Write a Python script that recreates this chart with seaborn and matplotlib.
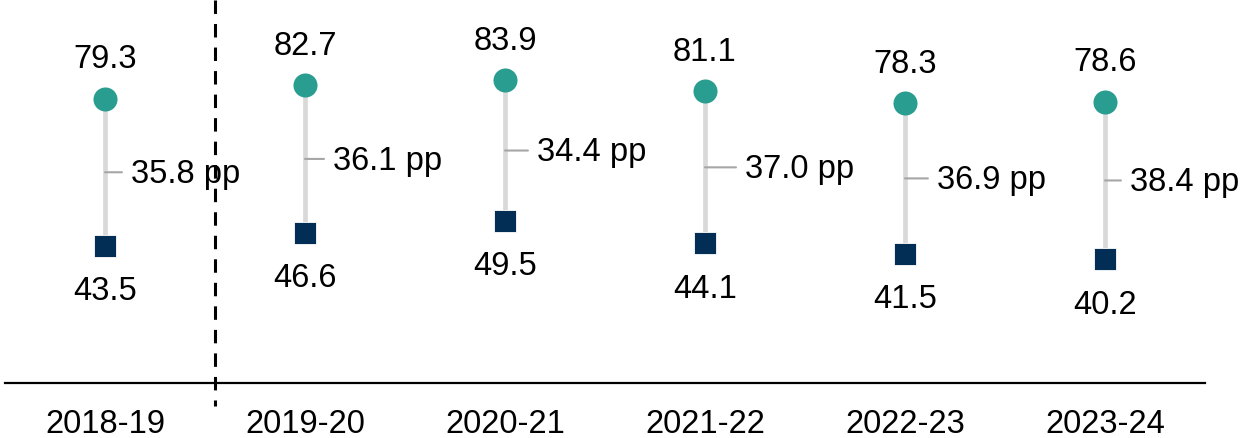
import matplotlib
matplotlib.use("Agg")
import matplotlib.pyplot as plt
import seaborn as sns
import pandas as pd

# School years and the two rates per year
years = ["2018-19", "2019-20", "2020-21", "2021-22", "2022-23", "2023-24"]
upper_rate = [79.3, 82.7, 83.9, 81.1, 78.3, 78.6]
lower_rate = [43.5, 46.6, 49.5, 44.1, 41.5, 40.2]
gap_pp = [35.8, 36.1, 34.4, 37.0, 36.9, 38.4]

# horizontal offset (in points) of each gap label from its connector
gap_label_offset = [18.7, 20.2, 23.0, 28.8, 23.0, 18.0]

TEAL = "#2a9d91"
NAVY = "#022d54"
CONNECTOR = "#d9d9d9"
LEADER = "#a6a6a6"

sns.set_theme(style="white")
plt.rcParams["font.family"] = ["Liberation Sans", "DejaVu Sans"]

pos = list(range(len(years)))
df = pd.DataFrame({"pos": pos, "year": years, "upper": upper_rate,
                   "lower": lower_rate, "gap": gap_pp})

fig = plt.figure(figsize=(12.47, 4.38), dpi=100)
ax = fig.add_axes([5 / 1247, 55 / 438, 1200 / 1247, 383 / 438])

# connectors between the two rates
ax.vlines(df["pos"], df["lower"], df["upper"], color=CONNECTOR, lw=3.4, zorder=1)

sns.scatterplot(data=df, x="pos", y="upper", ax=ax, color=TEAL, marker="o",
                s=300, linewidth=0, zorder=3)
sns.scatterplot(data=df, x="pos", y="lower", ax=ax, color=NAVY, marker="s",
                s=250, linewidth=0.6, edgecolor="white", zorder=3)

fs = 23.5
for (_, r), dx in zip(df.iterrows(), gap_label_offset):
    ax.annotate(f"{r['upper']:.1f}", xy=(r["pos"], r["upper"]), xytext=(0, 28),
                textcoords="offset points", ha="center", va="center", fontsize=fs,
                color="black")
    ax.annotate(f"{r['lower']:.1f}", xy=(r["pos"], r["lower"]), xytext=(0, -33),
                textcoords="offset points", ha="center", va="center", fontsize=fs,
                color="black")
    mid = (r["upper"] + r["lower"]) / 2
    # short leader from the connector toward the gap label
    ax.annotate("", xy=(r["pos"], mid), xytext=(dx - 6.5, 0),
                textcoords="offset points",
                arrowprops=dict(arrowstyle="-", color=LEADER, lw=1.5,
                                shrinkA=0, shrinkB=0),
                zorder=2)
    ax.annotate(f"{r['gap']:.1f} pp", xy=(r["pos"], mid), xytext=(dx, -1.5),
                textcoords="offset points", ha="left", va="center", fontsize=fs,
                color="black")

ax.set_xlim(-0.5, len(years) - 0.5)
ax.set_ylim(10, 10 + 383 / 4.1)
ax.set_xticks(pos)
ax.set_xticklabels(years, fontsize=fs, color="black")
ax.tick_params(axis="x", length=0, pad=19, colors="black")
ax.set_yticks([])
ax.set_xlabel("")
ax.set_ylabel("")

for side in ["top", "right", "left"]:
    ax.spines[side].set_visible(False)
ax.spines["bottom"].set_color("black")
ax.spines["bottom"].set_linewidth(1.6)

# separator after the first year, drawn from the top down
ax.plot([0.55, 0.55], [1.0, -0.06], transform=ax.get_xaxis_transform(),
        color="black", lw=2.2, linestyle=(0, (4.4, 3.3)), clip_on=False,
        zorder=4)

fig.savefig("out.png", dpi=100)
